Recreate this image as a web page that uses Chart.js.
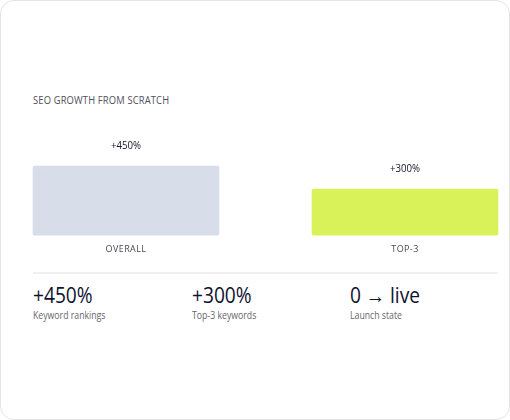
<!DOCTYPE html>
<html>
<head>
<meta charset="utf-8">
<script src="https://cdn.jsdelivr.net/npm/chart.js@4.4.1/dist/chart.umd.min.js"></script>
<style>
  html, body { margin: 0; padding: 0; background: #ffffff; }
  body { width: 510px; height: 420px; position: relative; overflow: hidden; font-family: "Open Sans", sans-serif; }
  .card { position: absolute; left: 0; top: 0; width: 510px; height: 420px; box-sizing: border-box; border: 1px solid #e4e4e4; border-radius: 14px; background: #fff; }
  .title { position: absolute; left: 33px; top: 92px; font-size: 11px; font-weight: 500; letter-spacing: 0.2px; color: #50505a; white-space: nowrap; transform: scaleX(0.85); transform-origin: left top; }
  .chartbox { position: absolute; left: 0; top: 120px; width: 510px; height: 150px; }
  .sep { position: absolute; left: 33px; top: 272px; width: 465px; height: 2px; background: #f0f0f0; }
  .stat { position: absolute; top: 281px; white-space: nowrap; }
  .stat .num { font-size: 22px; font-weight: 500; color: #0e1230; line-height: 27px; transform: scaleX(0.87); transform-origin: left top; }
  .stat .lab { font-size: 10.5px; color: #66666e; line-height: 13px; margin-top: 1px; transform: scaleX(0.83); transform-origin: left top; }
</style>
</head>
<body>
<div class="card"></div>
<div class="title" id="title"></div>
<div class="chartbox"><canvas id="c" width="510" height="150"></canvas></div>
<div class="sep"></div>
<div id="stats"></div>
<script>
const chartTitle = "SEO GROWTH FROM SCRATCH";
const categories = ["OVERALL", "TOP-3"];
const growthValues = [450, 300];
const valueLabels = ["+450%", "+300%"];
const barColors = ["#d8dee9", "#daf25a"];
const statValues = ["+450%", "+300%", "0 → live"];
const statLabels = ["Keyword rankings", "Top-3 keywords", "Launch state"];
const statLefts = [33, 192, 350];

const FONT = '"Open Sans", sans-serif';

document.getElementById('title').textContent = chartTitle;
const statsEl = document.getElementById('stats');
statValues.forEach((v, i) => {
  const d = document.createElement('div');
  d.className = 'stat';
  d.style.left = statLefts[i] + 'px';
  d.innerHTML = '<div class="num"></div><div class="lab"></div>';
  d.querySelector('.num').textContent = v;
  d.querySelector('.lab').textContent = statLabels[i];
  statsEl.appendChild(d);
});

const spacingPlugin = {
  id: 'spacing',
  beforeDraw(chart) { chart.ctx.letterSpacing = '0.4px'; },
  beforeDatasetsDraw(chart) { chart.ctx.letterSpacing = '0px'; }
};
const valueLabelPlugin = {
  id: 'valueLabels',
  afterDatasetsDraw(chart) {
    const ctx = chart.ctx;
    const meta = chart.getDatasetMeta(0);
    ctx.save();
    ctx.font = '500 11.5px ' + FONT;
    ctx.fillStyle = '#15152a';
    ctx.textAlign = 'center';
    ctx.textBaseline = 'middle';
    meta.data.forEach((bar, i) => {
      ctx.save();
      ctx.translate(bar.x, bar.y - 20);
      ctx.scale(0.84, 1);
      ctx.fillText(valueLabels[i], 0, 0);
      ctx.restore();
    });
    ctx.restore();
  }
};

new Chart(document.getElementById('c'), {
  type: 'bar',
  data: {
    labels: categories,
    datasets: [{
      data: growthValues,
      backgroundColor: barColors,
      borderRadius: 2,
      borderSkipped: false,
      barThickness: 186,
      clip: false
    }]
  },
  options: {
    responsive: false,
    animation: false,
    events: [],
    layout: { padding: { left: 126, right: 105, top: 23, bottom: 6 } },
    plugins: { legend: { display: false }, tooltip: { enabled: false } },
    scales: {
      x: {
        offset: false,
        grid: { display: false, drawTicks: false },
        border: { display: false },
        ticks: { color: '#4a4a55', font: { family: FONT, size: 9, weight: 500 }, padding: 9, maxRotation: 0, autoSkip: false }
      },
      y: { display: false, min: 0, max: 600 }
    }
  },
  plugins: [spacingPlugin, valueLabelPlugin]
});
</script>
</body>
</html>
